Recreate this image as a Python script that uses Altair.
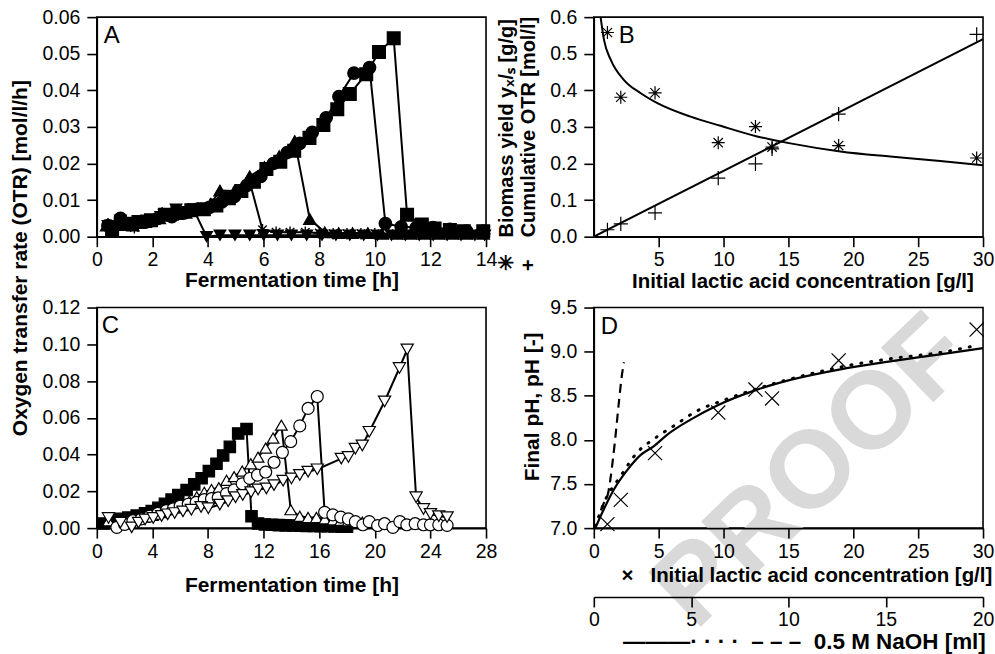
import altair as alt
import pandas as pd

FONT = "Liberation Sans"
LBL = 19.5
TTL = 21

# ---------------- Panel A: OTR vs time (several cultures) ----------------
a_series = ["down", "aster", "up", "circle", "square"]
a_t = {
    "down": [0.4, 0.85, 1.3, 1.8, 2.3, 2.85, 3.47, 3.95, 4.43, 4.97, 5.5, 6.0, 6.5, 7.0, 7.55, 8.1, 8.6, 9.1,
             9.6, 10.1, 10.6, 11.1, 11.6, 12.1, 12.6, 13.1, 13.6, 13.95],
    "aster": [0.4, 0.9, 1.35, 1.8, 2.35, 2.8, 3.3, 3.75, 4.2, 4.65, 5.05, 5.5, 5.96, 6.45, 6.95, 7.5, 8.0, 8.5,
              9.0, 9.5, 10.0, 10.5, 11.0, 11.5, 12.0, 12.5, 13.0, 13.5, 13.95],
    "up": [0.35, 0.8, 1.3, 1.75, 2.25, 2.7, 3.2, 3.65, 4.1, 4.43, 4.95, 5.5, 6.03, 6.56, 7.12, 7.66, 8.2, 8.7,
           9.2, 9.75, 10.25, 10.8, 11.3, 11.8, 12.3, 12.8, 13.3, 13.9],
    "circle": [0.4, 0.85, 1.3, 1.75, 2.2, 2.7, 3.15, 3.6, 4.05, 4.5, 4.95, 5.4, 5.9, 6.35, 6.85, 7.3, 7.75, 8.25,
               8.71, 9.25, 9.81, 10.38, 10.95, 11.49, 12.1, 12.7, 13.3, 13.9],
    "square": [0.55, 1.05, 1.5, 1.95, 2.45, 2.9, 3.4, 3.85, 4.3, 4.75, 5.2, 5.65, 6.1, 6.6, 7.1, 7.65, 8.15, 8.65,
               9.1, 9.69, 10.15, 10.68, 11.16, 11.69, 12.15, 12.7, 13.2, 13.9],
}
a_v = {
    "down": [0.003, 0.0045, 0.0035, 0.0045, 0.0055, 0.0075, 0.0076, 0.0, 0.0004, 0.0004, 0.0004, 0.0004, 0.0004,
             0.0004, 0.0004, 0.0004, 0.0004, 0.0004, 0.0004, 0.0004, 0.0004, 0.0004, 0.0004, 0.0004, 0.0004,
             0.0004, 0.0004, 0.0004],
    "aster": [0.0035, 0.0045, 0.0025, 0.0045, 0.0065, 0.0065, 0.007, 0.0075, 0.0085, 0.0105, 0.0125, 0.015,
              0.0019, 0.0012, 0.0012, 0.0012, 0.001, 0.0008, 0.0008, 0.0008, 0.0008, 0.0008, 0.0008, 0.0008,
              0.0008, 0.0008, 0.0008, 0.0008, 0.0008],
    "up": [0.003, 0.0045, 0.003, 0.004, 0.005, 0.006, 0.0065, 0.0075, 0.009, 0.0126, 0.0125, 0.0165, 0.019,
           0.022, 0.0261, 0.0048, 0.0012, 0.001, 0.001, 0.001, 0.0008, 0.0008, 0.0008, 0.0008, 0.0008, 0.0008,
           0.0008, 0.0008],
    "circle": [0.003, 0.005, 0.0035, 0.004, 0.005, 0.0055, 0.0065, 0.0075, 0.008, 0.0095, 0.011, 0.014, 0.0165,
               0.02, 0.023, 0.0255, 0.0285, 0.0325, 0.0383, 0.0447, 0.0462, 0.0036, 0.0027, 0.0025, 0.0025,
               0.002, 0.0015, 0.0015],
    "square": [0.002, 0.0035, 0.004, 0.0045, 0.006, 0.0065, 0.0072, 0.0075, 0.0085, 0.0105, 0.0125, 0.015,
               0.0185, 0.0205, 0.0235, 0.027, 0.0305, 0.0348, 0.039, 0.0444, 0.0505, 0.0542, 0.006, 0.0033,
               0.0022, 0.0018, 0.0015, 0.0015],
}
a_ticks_x = [0, 2, 4, 6, 8, 10, 12, 14]
a_ticks_y = [0.0, 0.01, 0.02, 0.03, 0.04, 0.05, 0.06]

# ---------------- Panel B: yield and cumulative OTR ----------------
b_conc = [1.05, 2.08, 4.72, 9.59, 12.46, 13.74, 18.87, 29.51]
b_yield = [0.558, 0.381, 0.393, 0.257, 0.301, 0.245, 0.249, 0.215]
b_otr = [0.019, 0.035, 0.065, 0.16, 0.199, 0.24, 0.335, 0.553]
b_fit_yield_x = [0.45, 0.79, 1.31, 2.33, 3.62, 4.9, 7.46, 9.77, 12.59, 15.15, 19.0, 22.85, 26.7, 30.0]
b_fit_yield_y = [0.62, 0.537, 0.483, 0.428, 0.392, 0.365, 0.328, 0.303, 0.274, 0.255, 0.233, 0.219, 0.207, 0.195]
b_fit_otr_x = [0.0, 30.0]
b_fit_otr_y = [0.0, 0.54]
b_ticks_x = [5, 10, 15, 20, 25, 30]
b_ticks_y = [0.0, 0.1, 0.2, 0.3, 0.4, 0.5, 0.6]

# ---------------- Panel C: OTR vs time (longer cultures) ----------------
c_series = ["square", "up", "circle", "down"]
c_t = {
    "square": [0.48, 1.08, 1.67, 2.27, 2.87, 3.47, 3.95, 4.43, 4.9, 5.38, 5.86, 6.46, 7.01, 7.54, 8.06, 8.61,
               9.09, 9.57, 10.17, 10.77, 11.13, 11.6, 12.1, 12.6, 13.1, 13.6, 14.1, 14.6, 15.1, 15.6, 16.1,
               16.6, 17.1, 17.6, 18.0],
    "up": [0.84, 1.6, 2.2, 2.8, 3.4, 4.0, 4.6, 5.2, 5.6, 6.1, 6.66, 7.19, 7.73, 8.25, 8.78, 9.33, 9.88, 10.46,
           11.08, 11.6, 12.15, 12.68, 13.28, 13.95, 14.6, 15.2, 15.8, 16.4, 17.0, 17.55, 18.1, 18.6, 19.1],
    "circle": [1.44, 2.0, 2.6, 3.2, 3.8, 4.4, 5.0, 5.5, 6.0, 6.58, 7.15, 7.73, 8.25, 8.73, 9.33, 9.88, 10.46,
               11.0, 11.56, 12.15, 12.75, 13.35, 13.95, 14.6, 15.2, 15.86, 16.39, 16.98, 17.55, 18.1, 18.6,
               19.14, 19.6, 20.2, 20.7, 21.3, 21.8, 22.3, 22.9, 23.5, 24.0, 24.6, 25.2],
    "down": [0.84, 1.7, 2.51, 3.0, 3.47, 4.06, 4.66, 5.1, 5.6, 6.2, 6.8, 7.5, 8.02, 8.85, 9.45, 9.98, 10.5,
             11.1, 11.6, 12.2, 12.75, 13.4, 14.0, 14.6, 15.2, 15.86, 17.59, 18.1, 18.6, 19.1, 19.6, 20.7,
             21.77, 22.33, 22.97, 23.5, 24.0, 24.6, 25.2],
}
c_v = {
    "square": [0.0025, 0.0042, 0.005, 0.0057, 0.0068, 0.008, 0.0093, 0.011, 0.0132, 0.0155, 0.018, 0.0207,
               0.0238, 0.0271, 0.031, 0.035, 0.0395, 0.0442, 0.0515, 0.0539, 0.0064, 0.0025, 0.002, 0.0018,
               0.0016, 0.0015, 0.0014, 0.0013, 0.0012, 0.0011, 0.001, 0.001, 0.0009, 0.0008, 0.0008],
    "up": [0.004, 0.0035, 0.004, 0.0052, 0.006, 0.007, 0.0085, 0.01, 0.011, 0.0126, 0.0147, 0.017, 0.0195,
           0.021, 0.022, 0.026, 0.028, 0.031, 0.035, 0.0386, 0.0435, 0.049, 0.056, 0.01, 0.0064, 0.0058,
           0.0058, 0.005, 0.0045, 0.0042, 0.004, 0.0036, 0.0033],
    "circle": [0.0004, 0.002, 0.004, 0.005, 0.0065, 0.008, 0.0095, 0.0105, 0.012, 0.013, 0.014, 0.0155, 0.016,
               0.0165, 0.0188, 0.0208, 0.0241, 0.027, 0.0288, 0.0305, 0.0358, 0.0412, 0.0471, 0.0556, 0.0651,
               0.0716, 0.0086, 0.0072, 0.006, 0.005, 0.0035, 0.0018, 0.0035, 0.0014, 0.0024, 0.0004, 0.0035,
               0.0018, 0.0024, 0.0018, 0.0018, 0.0018, 0.0015],
    "down": [0.0055, 0.003, 0.0004, 0.003, 0.0047, 0.0055, 0.0066, 0.0075, 0.0082, 0.0091, 0.01, 0.0115,
             0.0108, 0.0128, 0.0146, 0.0168, 0.018, 0.0195, 0.021, 0.0216, 0.0234, 0.0258, 0.027, 0.0289,
             0.0307, 0.032, 0.0378, 0.0387, 0.0432, 0.045, 0.0524, 0.0689, 0.0871, 0.0972, 0.0168, 0.0104,
             0.0077, 0.0065, 0.006],
}
c_ticks_x = [0, 4, 8, 12, 16, 20, 24, 28]
c_ticks_y = [0.0, 0.02, 0.04, 0.06, 0.08, 0.10, 0.12]

# ---------------- Panel D: final pH ----------------
d_conc = b_conc
d_ph = [7.045, 7.32, 7.85, 8.31, 8.57, 8.47, 8.9, 9.25]
d_solid_x = [0.03, 0.54, 1.56, 2.59, 3.62, 4.64, 5.67, 7.46, 9.51, 12.59, 15.15, 19.0, 22.85, 26.69, 30.0]
d_solid_y = [6.97, 7.14, 7.44, 7.66, 7.83, 7.93, 8.06, 8.23, 8.39, 8.57, 8.68, 8.80, 8.89, 8.97, 9.04]
d_dot_ml = [0.08, 0.53, 1.38, 2.24, 3.09, 4.12, 5.32, 6.68, 8.39, 10.1, 13.0, 15.23, 17.79, 19.68]
d_dot_y = [7.02, 7.29, 7.59, 7.86, 8.01, 8.16, 8.33, 8.45, 8.58, 8.69, 8.84, 8.92, 8.99, 9.07]
d_dash_ml = [0.36, 0.51, 0.74, 0.96, 1.08, 1.3, 1.43, 1.55]
d_dash_y = [7.2, 7.28, 7.4, 7.74, 7.97, 8.45, 8.71, 8.88]
d_ticks_x = [0, 5, 10, 15, 20, 25, 30]
d_ticks_ml = [0, 5, 10, 15, 20]
d_ticks_y = [7.0, 7.5, 8.0, 8.5, 9.0, 9.5]

# marker paths
ASTER = "M-1,0L1,0M0,-1L0,1M-0.72,-0.72L0.72,0.72M-0.72,0.72L0.72,-0.72"
PLUS = "M-1,0L1,0M0,-1L0,1"
XMARK = "M-1,-1L1,1M-1,1L1,-1"


def long_df(series, tdict, vdict):
    rows = []
    for s in series:
        for t, v in zip(tdict[s], vdict[s]):
            rows.append({"x": t, "y": v, "s": s})
    return pd.DataFrame(rows)


W = 390
H_TOP = 220
H_BOT = 221
NB = "\u00a0"

# ---------- A ----------
dfA = long_df(a_series, a_t, a_v)
axAx = alt.Axis(values=a_ticks_x, title="Fermentation time [h]", titleY=44, titleBaseline="middle")
axAy = alt.Axis(values=a_ticks_y, format=".2f", title="Oxygen transfer rate (OTR) [mol/l/h]",
                titleAngle=270, titleX=-76, titleY=241, titleAlign="center", titleBaseline="middle")
xA = alt.X("x:Q", scale=alt.Scale(domain=[0, 14], nice=False), axis=axAx)
yA = alt.Y("y:Q", scale=alt.Scale(domain=[0, 0.06], nice=False), axis=axAy)
linesA = alt.Chart(dfA).mark_line(color="black", strokeWidth=2).encode(x=xA, y=yA, detail="s:N")
ptsA = alt.Chart(dfA).mark_point(filled=True, fill="black", stroke="black", strokeWidth=1.4, opacity=1).encode(
    x=xA, y=yA,
    shape=alt.Shape("s:N", scale=alt.Scale(domain=a_series,
                                           range=["triangle-down", ASTER, "triangle-up", "circle", "square"]),
                    legend=None),
    size=alt.Size("s:N", scale=alt.Scale(domain=a_series, range=[130, 160, 130, 120, 140]), legend=None),
)
letA = alt.Chart(pd.DataFrame({"x": [0.25], "y": [0.0548], "txt": ["A"]})).mark_text(
    align="left", baseline="middle", font=FONT, fontSize=24, color="black").encode(x=xA, y=yA, text="txt:N")
chartA = alt.layer(linesA, ptsA, letA).properties(width=W, height=H_TOP)

# ---------- B ----------
dfB = pd.DataFrame({"x": b_conc * 2, "y": b_yield + b_otr,
                    "s": ["yield"] * len(b_conc) + ["otr"] * len(b_conc)})
dfBfit = pd.DataFrame({"x": b_fit_yield_x + b_fit_otr_x, "y": b_fit_yield_y + b_fit_otr_y,
                       "s": ["yield"] * len(b_fit_yield_x) + ["otr"] * len(b_fit_otr_x)})
axBx = alt.Axis(values=b_ticks_x, title="Initial lactic acid concentration [g/l]",
                titleX=209, titleY=45, titleBaseline="middle", titleAlign="center", titleFontSize=20.5)
axBy = alt.Axis(values=b_ticks_y, format=".1f",
                title=["\u2733" + NB * 3 + "Biomass yield y\u2093/\u209b [g/g]",
                       "+" + NB * 4 + "Cumulative OTR [mol/l]"],
                titleAngle=270, titleX=-87, titleY=254, titleAlign="left", titleBaseline="middle",
                titleLineHeight=22, titleFontSize=20)
xB = alt.X("x:Q", scale=alt.Scale(domain=[0, 30], nice=False), axis=axBx)
yB = alt.Y("y:Q", scale=alt.Scale(domain=[0, 0.6], nice=False), axis=axBy)
fitB = alt.Chart(dfBfit).mark_line(color="black", strokeWidth=2, clip=True, interpolate="monotone").encode(
    x=xB, y=yB, detail="s:N")
ptsB = alt.Chart(dfB).mark_point(filled=False, stroke="black", strokeWidth=1.2, opacity=1).encode(
    x=xB, y=yB,
    shape=alt.Shape("s:N", scale=alt.Scale(domain=["yield", "otr"], range=[ASTER, PLUS]), legend=None),
    size=alt.Size("s:N", scale=alt.Scale(domain=["yield", "otr"], range=[170, 200]), legend=None),
)
letB = alt.Chart(pd.DataFrame({"x": [1.92], "y": [0.548], "txt": ["B"]})).mark_text(
    align="left", baseline="middle", font=FONT, fontSize=24, color="black").encode(x=xB, y=yB, text="txt:N")
chartB = alt.layer(fitB, ptsB, letB).properties(width=W, height=H_TOP)

# ---------- C ----------
dfC = long_df(c_series, c_t, c_v)
axCx = alt.Axis(values=c_ticks_x, title="Fermentation time [h]", titleY=58, titleBaseline="middle")
axCy = alt.Axis(values=c_ticks_y, format=".2f", title=None)
xC = alt.X("x:Q", scale=alt.Scale(domain=[0, 28], nice=False), axis=axCx)
yC = alt.Y("y:Q", scale=alt.Scale(domain=[0, 0.12], nice=False), axis=axCy)
linesC = alt.Chart(dfC).mark_line(color="black", strokeWidth=2).encode(x=xC, y=yC, detail="s:N")
ptsC = alt.Chart(dfC).mark_point(stroke="black", strokeWidth=1.2, opacity=1, fillOpacity=1).encode(
    x=xC, y=yC,
    fill=alt.Fill("s:N", scale=alt.Scale(domain=c_series, range=["black", "white", "white", "white"]),
                  legend=None),
    shape=alt.Shape("s:N", scale=alt.Scale(domain=c_series,
                                           range=["square", "triangle-up", "circle", "triangle-down"]),
                    legend=None),
    size=alt.Size("s:N", scale=alt.Scale(domain=c_series, range=[130, 150, 130, 150]), legend=None),
)
letC = alt.Chart(pd.DataFrame({"x": [0.36], "y": [0.1099], "txt": ["C"]})).mark_text(
    align="left", baseline="middle", font=FONT, fontSize=24, color="black").encode(x=xC, y=yC, text="txt:N")
chartC = alt.layer(linesC, ptsC, letC).properties(width=W, height=H_BOT)

# ---------- D ----------
axDx = alt.Axis(values=d_ticks_x, title="\u00d7" + NB * 3 + "Initial lactic acid concentration [g/l]",
                titleX=213, titleY=48, titleBaseline="middle", titleAlign="center", titleFontSize=20.5,
                zindex=1)
axDml = alt.Axis(values=d_ticks_ml, orient="bottom", offset=69,
                 title="\u2014\u2014\u2014\u00b7" + NB + "\u00b7" + NB + "\u00b7" + NB + "\u00b7" + NB * 2
                       + "\u2013" + NB + "\u2013" + NB + "\u2013" + NB * 2 + "0.5 M NaOH [ml]",
                 titleX=210.5, titleY=45, titleBaseline="middle", titleAlign="center", titleFontSize=22.5,
                 zindex=1)
axDy = alt.Axis(values=d_ticks_y, format=".1f", title="Final pH, pH [-]",
                titleAngle=270, titleX=-61, titleY=99, titleAlign="center", titleBaseline="middle", zindex=1)
xD = alt.X("x:Q", scale=alt.Scale(domain=[0, 30], nice=False), axis=axDx)
xDml = alt.X("x:Q", scale=alt.Scale(domain=[0, 20], nice=False), axis=axDml)
yD = alt.Y("y:Q", scale=alt.Scale(domain=[7.0, 9.5], nice=False), axis=axDy)

wm = alt.Chart(pd.DataFrame({"x": [16.9], "y": [7.63], "txt": ["PROOF"]})).mark_text(
    align="center", baseline="middle", font=FONT, fontWeight="bold", fontSize=110, angle=316,
    color="#d9d9d9").encode(x=xD, y=yD, text="txt:N")
ptsD = alt.Chart(pd.DataFrame({"x": d_conc, "y": d_ph})).mark_point(
    shape=XMARK, size=200, filled=False, stroke="black", strokeWidth=1.2, opacity=1).encode(x=xD, y=yD)
solidD = alt.Chart(pd.DataFrame({"x": d_solid_x, "y": d_solid_y})).mark_line(
    color="black", strokeWidth=2.2, clip=True, interpolate="monotone").encode(x=xD, y=yD)
letD = alt.Chart(pd.DataFrame({"x": [0.54], "y": [9.28], "txt": ["D"]})).mark_text(
    align="left", baseline="middle", font=FONT, fontSize=24, color="black").encode(x=xD, y=yD, text="txt:N")
layerD1 = alt.layer(wm, solidD, ptsD, letD)

dotD = alt.Chart(pd.DataFrame({"x": d_dot_ml, "y": d_dot_y})).mark_line(
    color="black", strokeWidth=3, strokeDash=[1, 9], strokeCap="round", clip=True,
    interpolate="monotone").encode(x=xDml, y=yD)
dashD = alt.Chart(pd.DataFrame({"x": d_dash_ml, "y": d_dash_y})).mark_line(
    color="black", strokeWidth=2.2, strokeDash=[9, 6], clip=True, interpolate="monotone").encode(x=xDml, y=yD)
layerD2 = alt.layer(dotD, dashD)

chartD = alt.layer(layerD1, layerD2).resolve_scale(x="independent").properties(width=W, height=H_BOT)

chart = alt.concat(chartA, chartB, chartC, chartD, columns=2, bounds="flush",
                   spacing={"row": 71, "column": 108}).resolve_scale(
    shape="independent", size="independent", fill="independent"
).properties(
    padding={"left": 9, "top": 5.5, "right": 0, "bottom": 0}
).configure_view(stroke="black", strokeWidth=1.6).configure_axis(
    grid=False, domainColor="black", domainWidth=1.6, tickColor="black", tickWidth=1.6, tickSize=10,
    labelFont=FONT, labelFontSize=LBL, labelColor="black", labelFlush=False, labelPadding=4,
    titleFont=FONT, titleFontSize=TTL, titleFontWeight="bold", titleColor="black"
).configure_axisY(labelPadding=7)

chart.save("out.html", embed_options={"renderer": "svg", "actions": False})
